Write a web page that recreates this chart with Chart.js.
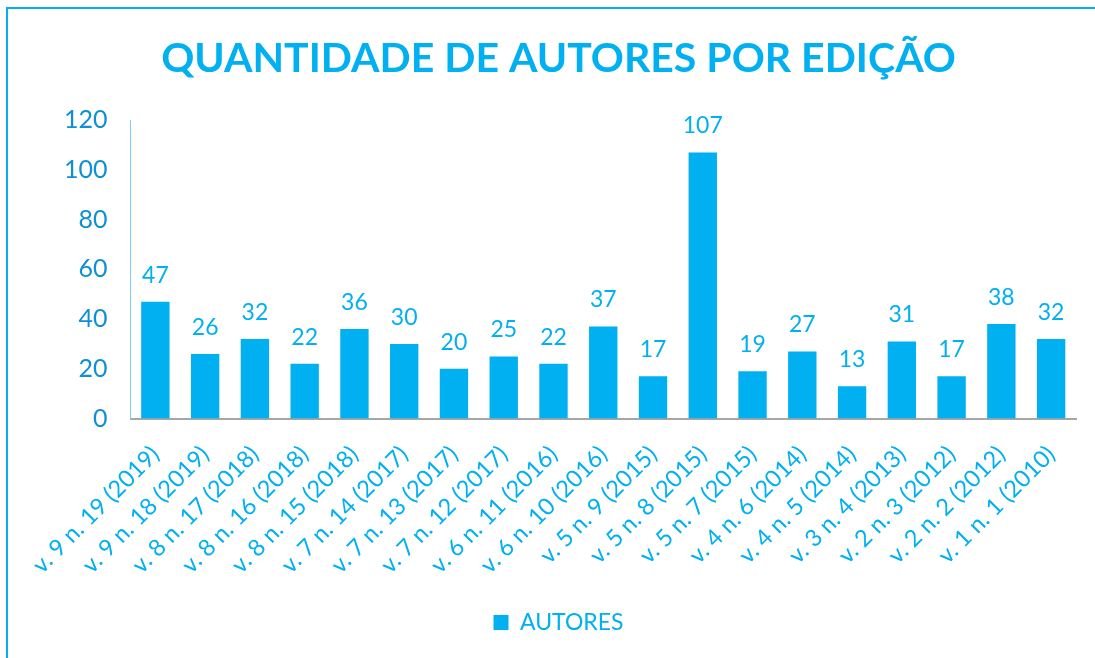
<!DOCTYPE html>
<html>
<head>
<meta charset="utf-8">
<script src="https://cdn.jsdelivr.net/npm/chart.js@4"></script>
<style>
  html, body { margin: 0; padding: 0; background: #fff; overflow: hidden; }
  #frame {
    position: absolute; left: 6px; top: 7px; width: 1200px; height: 800px;
    border-top: 2px solid #00B0F0; border-left: 2px solid #00B0F0;
  }
  #wrap { position: absolute; left: 0; top: 0; width: 1095px; height: 658px; }
</style>
</head>
<body>
<div id="frame"></div>
<div id="wrap"><canvas id="chart" width="1095" height="658"></canvas></div>
<script>
const editions = [
  "v. 9 n. 19 (2019)", "v. 9 n. 18 (2019)", "v. 8 n. 17 (2018)", "v. 8 n. 16 (2018)",
  "v. 8 n. 15 (2018)", "v. 7 n. 14 (2017)", "v. 7 n. 13 (2017)", "v. 7 n. 12 (2017)",
  "v. 6 n. 11 (2016)", "v. 6 n. 10 (2016)", "v. 5 n. 9 (2015)", "v. 5 n. 8 (2015)",
  "v. 5 n. 7 (2015)", "v. 4 n. 6 (2014)", "v. 4 n. 5 (2014)", "v. 3 n. 4 (2013)",
  "v. 2 n. 3 (2012)", "v. 2 n. 2 (2012)", "v. 1 n. 1 (2010)"
];
const authors = [47, 26, 32, 22, 36, 30, 20, 25, 22, 37, 17, 107, 19, 27, 13, 31, 17, 38, 32];
const yTicks = [0, 20, 40, 60, 80, 100, 120];

const BLUE = "#00B0F0";
const TICK_BLUE = "#0F8FD6";
const FONT = "Lato, 'Open Sans', sans-serif";

// draws the value above each bar
const valueLabels = {
  id: "valueLabels",
  afterDatasetsDraw(chart) {
    const ctx = chart.ctx;
    const meta = chart.getDatasetMeta(0);
    ctx.save();
    ctx.font = `23px ${FONT}`;
    ctx.fillStyle = BLUE;
    ctx.textAlign = "center";
    ctx.textBaseline = "bottom";
    meta.data.forEach((bar, i) => {
      ctx.fillText(authors[i], bar.x, bar.y - 15);
    });
    ctx.restore();
  }
};

new Chart(document.getElementById("chart").getContext("2d"), {
  type: "bar",
  data: {
    labels: editions,
    datasets: [{
      label: "AUTORES",
      data: authors,
      backgroundColor: BLUE,
      borderWidth: 0,
      categoryPercentage: 1,
      barPercentage: 0.57,
    }],
  },
  options: {
    responsive: false,
    animation: false,
    layout: { padding: { left: 41, right: 19, top: 0, bottom: 14 } },
    plugins: {
      title: {
        display: true,
        text: "QUANTIDADE DE AUTORES POR EDIÇÃO",
        color: BLUE,
        font: { family: FONT, size: 41, weight: "bold" },
        padding: { top: 34, bottom: 37 },
      },
      legend: {
        position: "bottom",
        labels: {
          color: BLUE,
          font: { family: FONT, size: 23 },
          boxWidth: 15,
          boxHeight: 15,
          padding: 10,
        },
      },
      tooltip: { enabled: false },
    },
    scales: {
      x: {
        grid: { display: false, drawTicks: false },
        border: { color: "#A6A6A6", width: 2 },
        ticks: {
          color: BLUE,
          font: { family: FONT, size: 23.5 },
          minRotation: 45,
          maxRotation: 45,
          padding: 22,
          autoSkip: false,
        },
      },
      y: {
        min: 0,
        max: 120,
        afterBuildTicks(axis) { axis.ticks = yTicks.map(v => ({ value: v })); },
        grid: { display: false, drawTicks: false },
        border: { color: "#7FCDF0", width: 1 },
        ticks: {
          color: TICK_BLUE,
          font: { family: FONT, size: 25 },
          padding: 23,
        },
      },
    },
  },
  plugins: [valueLabels],
});
</script>
</body>
</html>
